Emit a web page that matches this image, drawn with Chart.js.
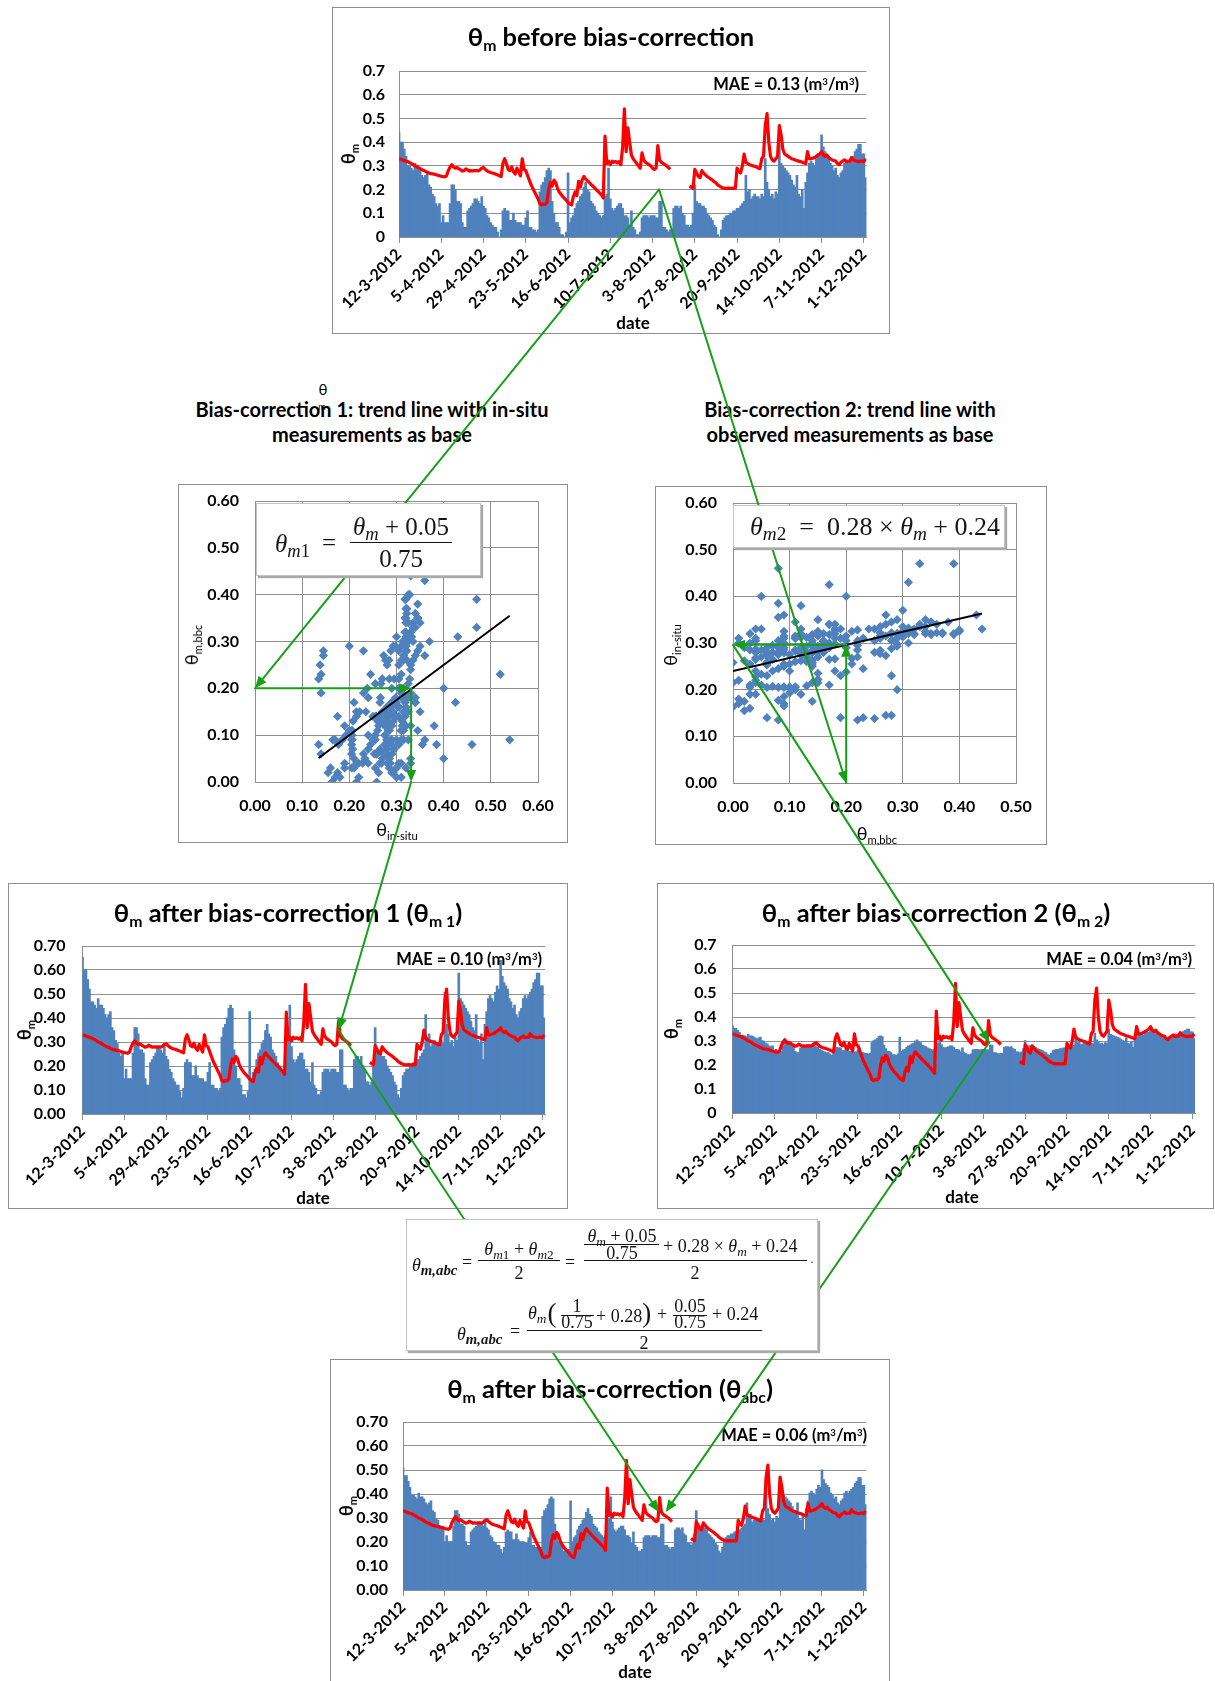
<!DOCTYPE html>
<html>
<head>
<meta charset="utf-8">
<title>Bias-correction of modelled soil moisture</title>
<script src="https://cdn.jsdelivr.net/npm/chart.js@4.4.1/dist/chart.umd.min.js"></script>
<style>
  html, body { margin: 0; padding: 0; background: #fff; }
  body { width: 1215px; height: 1681px; position: relative; overflow: hidden;
         font-family: Lato, "DejaVu Sans", sans-serif; color: #000; }
  .panel { position: absolute; box-sizing: border-box; border: 1px solid #8f8f8f; background: #fff; z-index: 1; }
  canvas.ch { position: absolute; z-index: 2; }
  .lbl { position: absolute; white-space: nowrap; z-index: 3; line-height: 1; }
  .lbl sub { font-size: 62%; vertical-align: -0.32em; line-height: 0; }
  .lbl sup { font-size: 58%; vertical-align: 0.55em; line-height: 0; }
  .tt { font-weight: bold; font-size: 25.5px; }
  .ax { font-weight: bold; font-size: 18px; }
  .mae { font-weight: bold; font-size: 16.5px; }
  .dt { font-weight: bold; font-size: 17px; }
  .note { font-weight: bold; font-size: 20px; }
  .sca { font-size: 18px; }
  #arrows { position: absolute; left: 0; top: 0; z-index: 4; pointer-events: none; }
  .fbox { position: absolute; box-sizing: border-box; background: #fff; z-index: 5;
          border: 1px solid #c4c4c4; box-shadow: 2px 2px 1px #a9a9a9; }
  .m { position: absolute; white-space: nowrap; z-index: 6; line-height: 1;
       font-family: "Liberation Serif", "DejaVu Serif", serif; color: #151515; }
  .m i { font-style: italic; }
  .m sub { font-size: 74%; vertical-align: -0.28em; line-height: 0; }
  .bar { position: absolute; z-index: 6; height: 0; border-top: 1.2px solid #151515; }
</style>
</head>
<body>
<canvas id="arrows" width="1215" height="1681"></canvas>
<script>
// ---------------------------------------------------------------
// Data: daily values, 12-3-2012 (day 0) to 2-12-2012 (day 265)
// ---------------------------------------------------------------
const tickDates = ['12-3-2012', '5-4-2012', '29-4-2012', '23-5-2012', '16-6-2012', '10-7-2012',
                   '3-8-2012', '27-8-2012', '20-9-2012', '14-10-2012', '7-11-2012', '1-12-2012'];

// modelled soil moisture before bias-correction (theta_m)
const thetaM = [
  0.44, 0.40, 0.40, 0.37, 0.34, 0.30, 0.30, 0.29, 0.28, 0.31,
  0.29, 0.29, 0.28, 0.26, 0.25, 0.26, 0.27, 0.22, 0.21, 0.18,
  0.17, 0.14, 0.13, 0.14, 0.06, 0.09, 0.06, 0.06, 0.06, 0.14,
  0.22, 0.22, 0.20, 0.15, 0.15, 0.14, 0.06, 0.04, 0.04, 0.11,
  0.12, 0.13, 0.14, 0.16, 0.16, 0.15, 0.14, 0.17, 0.13, 0.12,
  0.09, 0.08, 0.06, 0.05, 0.04, 0.04, 0.02, 0.00, 0.03, 0.11,
  0.12, 0.11, 0.11, 0.07, 0.07, 0.10, 0.07, 0.06, 0.06, 0.06,
  0.05, 0.05, 0.08, 0.11, 0.04, 0.04, 0.03, 0.03, 0.02, 0.03,
  0.19, 0.22, 0.23, 0.25, 0.28, 0.29, 0.28, 0.15, 0.10, 0.06,
  0.06, 0.04, 0.01, 0.01, 0.00, 0.02, 0.27, 0.06, 0.08, 0.09,
  0.12, 0.14, 0.15, 0.17, 0.18, 0.21, 0.23, 0.20, 0.19, 0.15,
  0.14, 0.13, 0.11, 0.10, 0.09, 0.08, 0.09, 0.17, 0.18, 0.29,
  0.16, 0.12, 0.11, 0.12, 0.13, 0.14, 0.14, 0.12, 0.09, 0.09,
  0.08, 0.05, 0.11, 0.04, 0.03, 0.01, 0.01, 0.02, 0.08, 0.09,
  0.09, 0.09, 0.08, 0.09, 0.09, 0.09, 0.08, 0.08, 0.15, 0.15,
  0.04, 0.04, 0.03, 0.02, 0.03, 0.03, 0.12, 0.13, 0.13, 0.12,
  0.13, 0.10, 0.09, 0.05, 0.05, 0.04, 0.05, 0.10, 0.22, 0.15,
  0.14, 0.14, 0.13, 0.13, 0.12, 0.10, 0.09, 0.08, 0.07, 0.05,
  0.04, 0.01, 0.00, 0.03, 0.07, 0.08, 0.09, 0.09, 0.10, 0.10,
  0.11, 0.11, 0.12, 0.12, 0.13, 0.14, 0.15, 0.26, 0.19, 0.20,
  0.16, 0.17, 0.18, 0.17, 0.17, 0.16, 0.18, 0.17, 0.33, 0.23,
  0.20, 0.17, 0.18, 0.16, 0.19, 0.18, 0.39, 0.31, 0.30, 0.29,
  0.28, 0.27, 0.26, 0.24, 0.22, 0.21, 0.26, 0.18, 0.17, 0.20,
  0.12, 0.23, 0.27, 0.31, 0.32, 0.31, 0.30, 0.33, 0.35, 0.34,
  0.43, 0.38, 0.36, 0.35, 0.34, 0.31, 0.30, 0.28, 0.29, 0.26,
  0.25, 0.27, 0.28, 0.31, 0.32, 0.31, 0.32, 0.33, 0.34, 0.36,
  0.37, 0.39, 0.39, 0.35, 0.35, 0.25
];

// in-situ measured soil moisture (null = no measurement)
const thetaInSitu = [
  0.330, 0.328, 0.325, 0.322, 0.320, 0.318, 0.313, 0.310, 0.305, 0.300,
  0.298, 0.293, 0.288, 0.284, 0.280, 0.277, 0.273, 0.270, 0.267, 0.266,
  0.265, 0.263, 0.260, 0.258, 0.256, 0.255, 0.253, 0.258, 0.280, 0.295,
  0.305, 0.295, 0.290, 0.293, 0.287, 0.283, 0.278, 0.280, 0.287, 0.283,
  0.278, 0.280, 0.279, 0.280, 0.280, 0.279, 0.283, 0.290, 0.293, 0.285,
  0.279, 0.275, 0.272, 0.270, 0.268, 0.265, 0.262, 0.258, 0.255, 0.310,
  0.330, 0.310, 0.285, 0.280, 0.295, 0.275, 0.265, 0.290, 0.275, 0.258,
  0.330, 0.285, 0.280, 0.260, 0.240, 0.220, 0.205, 0.190, 0.175, 0.160,
  0.140, 0.135, 0.140, 0.138, 0.145, 0.200, 0.230, 0.215, 0.240, 0.230,
  0.205, 0.190, 0.180, 0.170, 0.163, 0.155, 0.145, 0.140, 0.135, 0.170,
  0.190, 0.175, 0.235, 0.210, 0.240, 0.255, 0.245, 0.238, 0.230, 0.222,
  0.215, 0.208, 0.200, 0.193, 0.185, 0.177, 0.165, 0.425, 0.310, 0.320,
  0.305, 0.320, 0.315, 0.318, 0.312, 0.318, 0.305, 0.380, 0.540, 0.360,
  0.460, 0.400, 0.345, 0.330, 0.320, 0.310, 0.300, 0.290, 0.355, 0.325,
  0.315, 0.310, 0.305, 0.300, 0.290, 0.285, 0.290, 0.385, 0.325, 0.315,
  0.310, 0.305, 0.300, 0.293, 0.285, null, null, null, null, null,
  null, null, null, null, null, 0.215, 0.210, 0.205, 0.285, 0.270,
  0.255, 0.250, 0.280, 0.270, 0.262, 0.255, 0.250, 0.245, 0.240, 0.233,
  0.228, 0.220, 0.215, 0.210, 0.207, 0.205, 0.205, 0.206, 0.205, 0.205,
  0.206, 0.205, 0.290, 0.275, 0.270, 0.300, 0.350, 0.315, 0.310, 0.305,
  0.303, 0.300, 0.298, 0.295, 0.290, 0.288, 0.330, 0.340, 0.470, 0.520,
  0.400, 0.340, 0.325, 0.320, 0.330, 0.340, 0.470, 0.430, 0.370, 0.350,
  0.345, 0.340, 0.335, 0.330, 0.328, 0.325, 0.322, 0.320, 0.318, 0.315,
  0.312, 0.310, 0.360, 0.330, 0.330, 0.332, 0.335, 0.340, 0.345, 0.350,
  0.360, 0.345, 0.340, 0.345, 0.335, 0.330, 0.325, 0.322, 0.320, 0.310,
  0.305, 0.315, 0.320, 0.325, 0.318, 0.320, 0.320, 0.335, 0.325, 0.322,
  0.320, 0.318, 0.320, 0.320, 0.318, 0.330
];

// trend-line coefficients printed in the equation boxes
const trend1 = { scale: 0.75, shift: 0.05 };   // theta_m1 = (theta_m + 0.05) / 0.75
const trend2 = { slope: 0.28, icpt: 0.24 };    // theta_m2 = 0.28 * theta_m + 0.24
const maeLabels = ['0.13', '0.10', '0.04', '0.06'];

// worked example followed by the green arrows (day, soil-moisture value)
const exampleDay = 147.7;
const exampleTheta = 0.20;      // theta_m picked on the uncorrected series
const exampleM1 = 0.331;        // its value on trend line 1
const exampleM2 = 0.296;        // its value on trend line 2
const arrowTip1 = [147.0, 0.35];   // tip inside the "bias-correction 1" panel
const arrowTip2 = [147.5, 0.295];  // tip inside the "bias-correction 2" panel
const arrowTipAbcL = [146.5, 0.325];
const arrowTipAbcR = [150.5, 0.325];

// ---------------------------------------------------------------
// Derived series: the bias-correction equations applied day by day
// ---------------------------------------------------------------
const thetaM1 = thetaM.map(v => (v + trend1.shift) / trend1.scale);
const thetaM2 = thetaM.map(v => trend2.slope * v + trend2.icpt);
const thetaAbc = thetaM.map((v, i) => (thetaM1[i] + thetaM2[i]) / 2);

// ---------------------------------------------------------------
// Layout (page pixels)
// ---------------------------------------------------------------
const PAGE_H = 1681;
const panels = {
  top: { x: 332, y: 7,    w: 558, h: 327 },
  sc1: { x: 178, y: 484,  w: 390, h: 359 },
  sc2: { x: 655, y: 486,  w: 392, h: 359 },
  p1:  { x: 8,   y: 883,  w: 560, h: 326 },
  p2:  { x: 657, y: 883,  w: 557, h: 326 },
  abc: { x: 330, y: 1359, w: 560, h: 340 }
};
const plots = {
  top: { x0: 399,   y0: 71,   x1: 866.5, y1: 237 },
  sc1: { x0: 255,   y0: 501,  x1: 538,   y1: 782 },
  sc2: { x0: 733,   y0: 503,  x1: 1016,  y1: 783 },
  p1:  { x0: 82.5,  y0: 946,  x1: 545,   y1: 1114 },
  p2:  { x0: 732.5, y0: 945,  x1: 1195,  y1: 1113 },
  abc: { x0: 403,   y0: 1422, x1: 866.5, y1: 1590 }
};

Chart.defaults.font.family = 'Lato, "DejaVu Sans", sans-serif';
Chart.defaults.color = '#000';

const BLUE = '#4f81bd', RED = '#ff0000', GRID = '#8f8f8f', GREEN = '#16a016';
const tickFont = { size: 16, weight: 'bold' };

function addPanel(p) {
  const d = document.createElement('div');
  d.className = 'panel';
  Object.assign(d.style, { left: p.x + 'px', top: p.y + 'px', width: p.w + 'px', height: p.h + 'px' });
  document.body.appendChild(d);
}

function addCanvas(p) {
  const c = document.createElement('canvas');
  c.className = 'ch';
  const h = Math.min(p.h, PAGE_H - p.y);
  c.width = p.w; c.height = h;
  Object.assign(c.style, { left: p.x + 'px', top: p.y + 'px', width: p.w + 'px', height: h + 'px' });
  document.body.appendChild(c);
  return c;
}

function label(html, cls, x, y, anchor) {
  const s = document.createElement('div');
  s.className = 'lbl ' + cls;
  s.innerHTML = html;
  s.style.left = x + 'px';
  s.style.top = y + 'px';
  const tr = { c: 'translate(-50%,-50%)', r: 'translate(-100%,-50%)', l: 'translate(0,-50%)',
               v: 'translate(-50%,-50%) rotate(-90deg)' }[anchor || 'c'];
  s.style.transform = tr;
  document.body.appendChild(s);
  return s;
}

function fixedAxis(size, horizontal) {
  return function (scale) {
    if (horizontal) scale.height = size; else scale.width = size;
    scale.paddingLeft = 0; scale.paddingRight = 0; scale.paddingTop = 0; scale.paddingBottom = 0;
  };
}

// time-series panel: daily bars plus the in-situ line
function timeSeries(key, values, decimals, yPad) {
  const p = panels[key], a = plots[key];
  addPanel(p);
  const cv = addCanvas(p);
  const yw = a.x0 - p.x;
  const xh = cv.height - (a.y1 - p.y);
  const bars = values.map((v, i) => ({ x: i, y: v }));
  const line = thetaInSitu.map((v, i) => ({ x: i, y: v }));
  return new Chart(cv, {
    type: 'bar',
    data: {
      datasets: [
        { type: 'line', data: line, borderColor: RED, borderWidth: 3.2, pointRadius: 0,
          spanGaps: false, tension: 0, order: 0, borderJoinStyle: 'round' },
        { type: 'bar', data: bars, backgroundColor: BLUE, borderWidth: 0,
          barPercentage: 1, categoryPercentage: 1, inflateAmount: 0.45, order: 1 }
      ]
    },
    options: {
      responsive: false, animation: false, events: [], devicePixelRatio: 1,
      layout: { padding: { left: 0, top: a.y0 - p.y, right: p.x + p.w - a.x1, bottom: 0 } },
      plugins: { legend: { display: false }, tooltip: { enabled: false }, title: { display: false } },
      scales: {
        x: {
          type: 'linear', min: 0, max: 265.5, offset: false,
          afterFit: fixedAxis(xh, true),
          afterBuildTicks: s => { s.ticks = tickDates.map((_, i) => ({ value: i * 24 })); },
          grid: { display: true, drawOnChartArea: false, drawTicks: true, tickLength: 6, color: GRID, offset: false },
          border: { display: true, color: GRID, width: 1 },
          ticks: { autoSkip: false, maxRotation: 45, minRotation: 45, padding: 2, font: tickFont,
                   callback: (v, i) => tickDates[i] }
        },
        y: {
          min: 0, max: 0.7,
          afterFit: fixedAxis(yw, false),
          grid: { color: GRID, lineWidth: 1, drawTicks: false },
          border: { display: true, color: GRID, width: 1 },
          ticks: { stepSize: 0.1, padding: yPad, font: tickFont,
                   callback: v => (decimals === 1 && Math.abs(v) < 1e-9) ? '0' : v.toFixed(decimals) }
        }
      }
    }
  });
}

// scatter panel with trend line
function scatter(key, pts, xMax, trendFn, xStep) {
  const p = panels[key], a = plots[key];
  addPanel(p);
  const cv = addCanvas(p);
  const yw = a.x0 - p.x;
  const xh = cv.height - (a.y1 - p.y);
  const xs = pts.map(q => q.x);
  const lo = Math.min(...xs), hi = Math.max(...xs);
  const tl = [{ x: lo, y: trendFn(lo) }, { x: hi, y: trendFn(hi) }];
  return new Chart(cv, {
    type: 'scatter',
    data: {
      datasets: [
        { type: 'line', data: tl, borderColor: '#000', borderWidth: 2, pointRadius: 0, order: 0 },
        { data: pts, pointStyle: 'rectRot', pointRadius: 4.6, backgroundColor: BLUE,
          borderColor: BLUE, borderWidth: 0, order: 1 }
      ]
    },
    options: {
      responsive: false, animation: false, events: [], devicePixelRatio: 1,
      layout: { padding: { left: 0, top: a.y0 - p.y, right: p.x + p.w - a.x1, bottom: 0 } },
      plugins: { legend: { display: false }, tooltip: { enabled: false } },
      scales: {
        x: {
          type: 'linear', min: 0, max: xMax,
          afterFit: fixedAxis(xh, true),
          grid: { color: GRID, drawTicks: false },
          border: { display: true, color: GRID },
          ticks: { stepSize: xStep, padding: 14, font: tickFont, callback: v => v.toFixed(2) }
        },
        y: {
          min: 0, max: 0.6,
          afterFit: fixedAxis(yw, false),
          grid: { color: GRID, drawTicks: false },
          border: { display: true, color: GRID },
          ticks: { stepSize: 0.1, padding: 16, font: tickFont, callback: v => v.toFixed(2) }
        }
      }
    }
  });
}

// ---------------------------------------------------------------
// Charts
// ---------------------------------------------------------------
const chTop = timeSeries('top', thetaM, 1, 14);
const chP1 = timeSeries('p1', thetaM1, 2, 17);
const chP2 = timeSeries('p2', thetaM2, 1, 16);
const chAbc = timeSeries('abc', thetaAbc, 2, 15);

const pairs1 = [], pairs2 = [];
thetaM.forEach((v, i) => {
  if (thetaInSitu[i] !== null) {
    pairs1.push({ x: thetaInSitu[i], y: v });
    pairs2.push({ x: v, y: thetaInSitu[i] });
  }
});
const chS1 = scatter('sc1', pairs1, 0.6, x => trend1.scale * x - trend1.shift, 0.1);
const chS2 = scatter('sc2', pairs2, 0.5, x => trend2.slope * x + trend2.icpt, 0.1);

// ---------------------------------------------------------------
// Titles and axis labels
// ---------------------------------------------------------------
label('θ<sub>m</sub> before bias-correction', 'tt', 611, 37);
label('θ<sub>m</sub> after bias-correction 1 (θ<sub>m 1</sub>)', 'tt', 288, 913);
label('θ<sub>m</sub> after bias-correction 2 (θ<sub>m 2</sub>)', 'tt', 936, 913);
label('θ<sub>m</sub> after bias-correction (θ<sub>abc</sub>)', 'tt', 610, 1389);

label('θ<sub>m</sub>', 'ax', 348, 154, 'v');
label('θ<sub>m</sub>', 'ax', 24, 1030, 'v');
label('θ<sub>m</sub>', 'ax', 671, 1029, 'v');
label('θ<sub>m</sub>', 'ax', 346, 1506, 'v');

label('MAE = ' + maeLabels[0] + ' (m<sup>3</sup>/m<sup>3</sup>)', 'mae', 859, 84, 'r');
label('MAE = ' + maeLabels[1] + ' (m<sup>3</sup>/m<sup>3</sup>)', 'mae', 542, 959, 'r');
label('MAE = ' + maeLabels[2] + ' (m<sup>3</sup>/m<sup>3</sup>)', 'mae', 1192, 959, 'r');
label('MAE = ' + maeLabels[3] + ' (m<sup>3</sup>/m<sup>3</sup>)', 'mae', 867, 1435, 'r');

label('date', 'dt', 633, 322);
label('date', 'dt', 313, 1197);
label('date', 'dt', 962, 1196);
label('date', 'dt', 635, 1671);

label('θ<sub>m,bbc</sub>', 'sca', 191, 645, 'v');
label('θ<sub>in-situ</sub>', 'sca', 397, 829);
label('θ<sub>in-situ</sub>', 'sca', 670, 645, 'v');
label('θ<sub>m,bbc</sub>', 'sca', 877, 833);

label('Bias-correction 1: trend line with in-situ', 'note', 372, 409);
label('measurements as base', 'note', 372, 434);
label('Bias-correction 2: trend line with', 'note', 850, 409);
label('observed measurements as base', 'note', 850, 434);
label('θ', 'sca', 323, 389).style.fontSize = '15px';
label('m', 'sca', 322, 406).style.fontSize = '9px';

// ---------------------------------------------------------------
// Equation boxes
// ---------------------------------------------------------------
function box(x, y, w, h) {
  const d = document.createElement('div');
  d.className = 'fbox';
  Object.assign(d.style, { left: x + 'px', top: y + 'px', width: w + 'px', height: h + 'px' });
  document.body.appendChild(d);
}
function mt(html, x, y, size, anchor) {
  const s = document.createElement('div');
  s.className = 'm';
  s.innerHTML = html;
  s.style.fontSize = size + 'px';
  s.style.left = x + 'px';
  s.style.top = y + 'px';
  s.style.transform = { c: 'translate(-50%,-50%)', l: 'translate(0,-50%)' }[anchor || 'c'];
  document.body.appendChild(s);
}
function fbar(x0, x1, y) {
  const d = document.createElement('div');
  d.className = 'bar';
  Object.assign(d.style, { left: x0 + 'px', top: y + 'px', width: (x1 - x0) + 'px' });
  document.body.appendChild(d);
}
const TH = '<i>θ</i>';
const THm = TH + '<sub><i>m</i></sub>';
const THabc = TH + '<sub style="font-size:82%"><b><i>m,abc</i></b></sub>';

// trend line 1
box(256, 503, 225, 73);
mt(TH + '<sub><i>m</i>1</sub>', 275, 543, 25, 'l');
mt('=', 329, 542, 25);
mt(THm + ' + 0.05', 401, 526, 25);
fbar(350, 452, 542);
mt('0.75', 401, 558, 25);

// trend line 2
box(733, 505, 272, 43);
mt(TH + '<sub><i>m</i>2</sub>&nbsp; = &nbsp;0.28 × ' + THm + ' + 0.24', 750, 527, 26, 'l');

// averaged correction
box(406, 1219, 412, 132);
const FS = 18;
mt(THabc, 412, 1265, FS, 'l');
mt('=', 467, 1262, FS);
mt(TH + '<sub><i>m</i>1</sub> + ' + TH + '<sub><i>m</i>2</sub>', 519, 1249, FS);
fbar(478, 560, 1260);
mt('2', 519, 1273, FS);
mt('=', 570, 1262, FS);
mt(THm + ' + 0.05', 622, 1236, FS);
fbar(584, 659, 1244);
mt('0.75', 622, 1253, FS);
mt('+ 0.28 × ' + THm + ' + 0.24', 663, 1246, FS, 'l');
fbar(584, 807, 1260);
mt('2', 695, 1273, FS);
mt('.', 812, 1259, 12);

mt(THabc, 457, 1334, FS, 'l');
mt('=', 515, 1331, FS);
mt(THm, 528, 1313, FS, 'l');
mt('<span style="font-size:150%">(</span>', 552, 1313, FS);
mt('1', 577, 1306, FS);
fbar(561, 594, 1315);
mt('0.75', 577, 1322, FS);
mt('+ 0.28<span style="font-size:150%">)</span>', 596, 1313, FS, 'l');
mt('+', 662, 1314, FS);
mt('0.05', 690, 1306, FS);
fbar(673, 707, 1315);
mt('0.75', 690, 1322, FS);
mt('+ 0.24', 712, 1314, FS, 'l');
fbar(527, 762, 1330);
mt('2', 644, 1343, FS);

// ---------------------------------------------------------------
// Green arrows tracing the worked example through the panels
// ---------------------------------------------------------------
function pt(chart, key, x, y) {
  const p = panels[key];
  return [p.x + chart.scales.x.getPixelForValue(x), p.y + chart.scales.y.getPixelForValue(y)];
}
const actx = document.getElementById('arrows').getContext('2d');
actx.strokeStyle = GREEN; actx.fillStyle = GREEN; actx.lineWidth = 2; actx.lineCap = 'round';
function arrow(a, b) {
  const ang = Math.atan2(b[1] - a[1], b[0] - a[0]);
  const L = 12, W = 5;
  const bx = b[0] - L * Math.cos(ang), by = b[1] - L * Math.sin(ang);
  actx.beginPath(); actx.moveTo(a[0], a[1]); actx.lineTo(bx, by); actx.stroke();
  actx.beginPath(); actx.moveTo(b[0], b[1]);
  actx.lineTo(bx + W * Math.sin(ang), by - W * Math.cos(ang));
  actx.lineTo(bx - W * Math.sin(ang), by + W * Math.cos(ang));
  actx.closePath(); actx.fill();
}
const P0 = pt(chTop, 'top', exampleDay, exampleTheta);
const P1 = pt(chS1, 'sc1', 0, exampleTheta);
const P2 = pt(chS1, 'sc1', exampleM1, exampleTheta);
const P3 = pt(chS1, 'sc1', exampleM1, 0);
const P4 = pt(chP1, 'p1', arrowTip1[0], arrowTip1[1]);
const P5 = pt(chAbc, 'abc', arrowTipAbcL[0], arrowTipAbcL[1]);
const Q1 = pt(chS2, 'sc2', exampleTheta, 0);
const Q2 = pt(chS2, 'sc2', exampleTheta, exampleM2);
const Q3 = pt(chS2, 'sc2', 0, exampleM2);
const Q4 = pt(chP2, 'p2', arrowTip2[0], arrowTip2[1]);
const Q5 = pt(chAbc, 'abc', arrowTipAbcR[0], arrowTipAbcR[1]);
arrow(P0, P1); arrow(P1, P2); arrow(P2, P3); arrow(P3, P4); arrow(P4, P5);
arrow(P0, Q1); arrow(Q1, Q2); arrow(Q2, Q3); arrow(Q3, Q4); arrow(Q4, Q5);
</script>
</body>
</html>
